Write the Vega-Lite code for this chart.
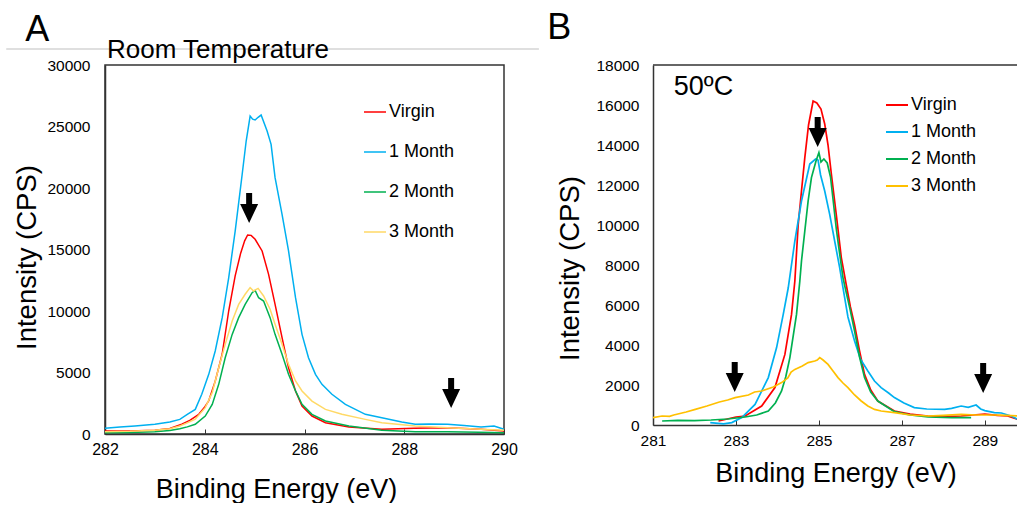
{
  "$schema": "https://vega.github.io/schema/vega-lite/v6.json",
  "background": "white",
  "padding": {"left": 4, "top": 10, "right": 0, "bottom": 0},
  "autosize": {"type": "pad"},
  "config": {
    "font": "Liberation Sans",
    "concat": {"spacing": 149},
    "axis": {"labelColor": "black", "titleColor": "black", "domainColor": "#333333", "domainWidth": 1.5, "tickColor": "#333333", "grid": false, "titleFontWeight": "normal", "labelFont": "Liberation Sans", "titleFont": "Liberation Sans", "labelOverlap": false},
    "axisY": {"labelOverlap": false},
    "legend": {"labelFont": "Liberation Sans"}
  },
  "bounds": "flush",
  "datasets": {
    "rt": [
      {"series":"Virgin","energy":282.0,"intensity":240},{"series":"Virgin","energy":282.5,"intensity":250},{"series":"Virgin","energy":283.0,"intensity":300},{"series":"Virgin","energy":283.3,"intensity":450},{"series":"Virgin","energy":283.54,"intensity":800},{"series":"Virgin","energy":283.7,"intensity":1100},{"series":"Virgin","energy":283.88,"intensity":1600},{"series":"Virgin","energy":284.0,"intensity":2200},{"series":"Virgin","energy":284.08,"intensity":2700},{"series":"Virgin","energy":284.21,"intensity":4300},{"series":"Virgin","energy":284.35,"intensity":6500},{"series":"Virgin","energy":284.48,"intensity":10000},{"series":"Virgin","energy":284.61,"intensity":12850},{"series":"Virgin","energy":284.72,"intensity":14700},{"series":"Virgin","energy":284.8,"intensity":15700},{"series":"Virgin","energy":284.86,"intensity":16180},{"series":"Virgin","energy":284.93,"intensity":16150},{"series":"Virgin","energy":285.01,"intensity":15830},{"series":"Virgin","energy":285.15,"intensity":14880},{"series":"Virgin","energy":285.28,"intensity":12980},{"series":"Virgin","energy":285.41,"intensity":10540},{"series":"Virgin","energy":285.55,"intensity":7830},{"series":"Virgin","energy":285.68,"intensity":5390},{"series":"Virgin","energy":285.82,"intensity":3500},{"series":"Virgin","energy":285.95,"intensity":2280},{"series":"Virgin","energy":286.15,"intensity":1460},{"series":"Virgin","energy":286.42,"intensity":920},{"series":"Virgin","energy":286.89,"intensity":570},{"series":"Virgin","energy":287.55,"intensity":380},{"series":"Virgin","energy":288.2,"intensity":460},{"series":"Virgin","energy":288.87,"intensity":510},{"series":"Virgin","energy":289.54,"intensity":380},{"series":"Virgin","energy":290.0,"intensity":240},
      {"series":"1 Month","energy":282.0,"intensity":460},{"series":"1 Month","energy":282.3,"intensity":570},{"series":"1 Month","energy":282.6,"intensity":650},{"series":"1 Month","energy":283.0,"intensity":790},{"series":"1 Month","energy":283.3,"intensity":975},{"series":"1 Month","energy":283.5,"intensity":1190},{"series":"1 Month","energy":283.65,"intensity":1600},{"series":"1 Month","energy":283.81,"intensity":2000},{"series":"1 Month","energy":283.94,"intensity":3230},{"series":"1 Month","energy":284.08,"intensity":4850},{"series":"1 Month","energy":284.21,"intensity":6750},{"series":"1 Month","energy":284.35,"intensity":9460},{"series":"1 Month","energy":284.48,"intensity":12700},{"series":"1 Month","energy":284.61,"intensity":16500},{"series":"1 Month","energy":284.75,"intensity":21100},{"series":"1 Month","energy":284.83,"intensity":23800},{"series":"1 Month","energy":284.91,"intensity":25850},{"series":"1 Month","energy":284.96,"intensity":25600},{"series":"1 Month","energy":285.01,"intensity":25530},{"series":"1 Month","energy":285.07,"intensity":25750},{"series":"1 Month","energy":285.13,"intensity":25930},{"series":"1 Month","energy":285.25,"intensity":24630},{"series":"1 Month","energy":285.33,"intensity":23550},{"series":"1 Month","energy":285.41,"intensity":20840},{"series":"1 Month","energy":285.55,"intensity":17860},{"series":"1 Month","energy":285.68,"intensity":14880},{"series":"1 Month","energy":285.82,"intensity":11080},{"series":"1 Month","energy":285.95,"intensity":8100},{"series":"1 Month","energy":286.08,"intensity":6200},{"series":"1 Month","energy":286.22,"intensity":4850},{"series":"1 Month","energy":286.35,"intensity":4040},{"series":"1 Month","energy":286.55,"intensity":3230},{"series":"1 Month","energy":286.82,"intensity":2410},{"series":"1 Month","energy":287.22,"intensity":1600},{"series":"1 Month","energy":287.55,"intensity":1330},{"series":"1 Month","energy":287.95,"intensity":975},{"series":"1 Month","energy":288.22,"intensity":790},{"series":"1 Month","energy":288.5,"intensity":820},{"series":"1 Month","energy":288.87,"intensity":790},{"series":"1 Month","energy":289.2,"intensity":700},{"series":"1 Month","energy":289.54,"intensity":570},{"series":"1 Month","energy":289.8,"intensity":650},{"series":"1 Month","energy":290.0,"intensity":380},
      {"series":"2 Month","energy":282.0,"intensity":100},{"series":"2 Month","energy":282.5,"intensity":130},{"series":"2 Month","energy":283.0,"intensity":180},{"series":"2 Month","energy":283.3,"intensity":280},{"series":"2 Month","energy":283.5,"intensity":420},{"series":"2 Month","energy":283.65,"intensity":580},{"series":"2 Month","energy":283.81,"intensity":790},{"series":"2 Month","energy":284.01,"intensity":1460},{"series":"2 Month","energy":284.15,"intensity":2410},{"series":"2 Month","energy":284.28,"intensity":4040},{"series":"2 Month","energy":284.41,"intensity":6200},{"series":"2 Month","energy":284.55,"intensity":8100},{"series":"2 Month","energy":284.68,"intensity":9460},{"series":"2 Month","energy":284.81,"intensity":10540},{"series":"2 Month","energy":284.95,"intensity":11490},{"series":"2 Month","energy":285.01,"intensity":11680},{"series":"2 Month","energy":285.08,"intensity":11080},{"series":"2 Month","energy":285.18,"intensity":10810},{"series":"2 Month","energy":285.31,"intensity":9460},{"series":"2 Month","energy":285.41,"intensity":8100},{"series":"2 Month","energy":285.55,"intensity":6480},{"series":"2 Month","energy":285.68,"intensity":4850},{"series":"2 Month","energy":285.82,"intensity":3500},{"series":"2 Month","energy":285.95,"intensity":2410},{"series":"2 Month","energy":286.15,"intensity":1600},{"series":"2 Month","energy":286.42,"intensity":1060},{"series":"2 Month","energy":286.89,"intensity":650},{"series":"2 Month","energy":287.55,"intensity":300},{"series":"2 Month","energy":288.22,"intensity":190},{"series":"2 Month","energy":288.87,"intensity":190},{"series":"2 Month","energy":289.5,"intensity":150},{"series":"2 Month","energy":290.0,"intensity":110},
      {"series":"3 Month","energy":282.0,"intensity":190},{"series":"3 Month","energy":282.5,"intensity":220},{"series":"3 Month","energy":283.0,"intensity":300},{"series":"3 Month","energy":283.3,"intensity":420},{"series":"3 Month","energy":283.5,"intensity":650},{"series":"3 Month","energy":283.65,"intensity":900},{"series":"3 Month","energy":283.81,"intensity":1200},{"series":"3 Month","energy":284.01,"intensity":2140},{"series":"3 Month","energy":284.15,"intensity":3360},{"series":"3 Month","energy":284.28,"intensity":5390},{"series":"3 Month","energy":284.41,"intensity":7290},{"series":"3 Month","energy":284.55,"intensity":9190},{"series":"3 Month","energy":284.68,"intensity":10540},{"series":"3 Month","energy":284.81,"intensity":11360},{"series":"3 Month","energy":284.91,"intensity":11900},{"series":"3 Month","energy":284.98,"intensity":11630},{"series":"3 Month","energy":285.07,"intensity":11840},{"series":"3 Month","energy":285.18,"intensity":11220},{"series":"3 Month","energy":285.31,"intensity":10140},{"series":"3 Month","energy":285.41,"intensity":8920},{"series":"3 Month","energy":285.55,"intensity":7290},{"series":"3 Month","energy":285.68,"intensity":5660},{"series":"3 Month","energy":285.82,"intensity":4310},{"series":"3 Month","energy":285.95,"intensity":3500},{"series":"3 Month","energy":286.15,"intensity":2680},{"series":"3 Month","energy":286.42,"intensity":2000},{"series":"3 Month","energy":286.75,"intensity":1600},{"series":"3 Month","energy":287.22,"intensity":1190},{"series":"3 Month","energy":287.55,"intensity":920},{"series":"3 Month","energy":288.22,"intensity":650},{"series":"3 Month","energy":288.87,"intensity":510},{"series":"3 Month","energy":289.54,"intensity":380},{"series":"3 Month","energy":290.0,"intensity":300}
    ],
    "c50": [
      {"series":"Virgin","energy":282.58,"intensity":200},{"series":"Virgin","energy":283.0,"intensity":400},{"series":"Virgin","energy":283.22,"intensity":450},{"series":"Virgin","energy":283.62,"intensity":950},{"series":"Virgin","energy":283.94,"intensity":1870},{"series":"Virgin","energy":284.18,"intensity":3530},{"series":"Virgin","energy":284.34,"intensity":5530},{"series":"Virgin","energy":284.42,"intensity":7200},{"series":"Virgin","energy":284.5,"intensity":10000},{"series":"Virgin","energy":284.58,"intensity":11700},{"series":"Virgin","energy":284.66,"intensity":13370},{"series":"Virgin","energy":284.75,"intensity":15000},{"series":"Virgin","energy":284.86,"intensity":16200},{"series":"Virgin","energy":284.95,"intensity":16100},{"series":"Virgin","energy":285.05,"intensity":15800},{"series":"Virgin","energy":285.14,"intensity":15050},{"series":"Virgin","energy":285.22,"intensity":14000},{"series":"Virgin","energy":285.3,"intensity":12550},{"series":"Virgin","energy":285.42,"intensity":10500},{"series":"Virgin","energy":285.54,"intensity":8370},{"series":"Virgin","energy":285.66,"intensity":7000},{"series":"Virgin","energy":285.76,"intensity":5900},{"series":"Virgin","energy":285.86,"intensity":5000},{"series":"Virgin","energy":285.98,"intensity":3700},{"series":"Virgin","energy":286.1,"intensity":2530},{"series":"Virgin","energy":286.25,"intensity":1750},{"series":"Virgin","energy":286.42,"intensity":1200},{"series":"Virgin","energy":286.82,"intensity":700},{"series":"Virgin","energy":287.2,"intensity":550},{"series":"Virgin","energy":287.63,"intensity":450},{"series":"Virgin","energy":288.0,"intensity":420},{"series":"Virgin","energy":288.43,"intensity":450},{"series":"Virgin","energy":289.0,"intensity":550},{"series":"Virgin","energy":289.3,"intensity":480},{"series":"Virgin","energy":289.55,"intensity":450},{"series":"Virgin","energy":289.8,"intensity":280},
      {"series":"1 Month","energy":282.38,"intensity":120},{"series":"1 Month","energy":282.7,"intensity":60},{"series":"1 Month","energy":282.9,"intensity":120},{"series":"1 Month","energy":283.14,"intensity":370},{"series":"1 Month","energy":283.46,"intensity":1030},{"series":"1 Month","energy":283.78,"intensity":2370},{"series":"1 Month","energy":283.98,"intensity":3870},{"series":"1 Month","energy":284.14,"intensity":5530},{"series":"1 Month","energy":284.26,"intensity":6850},{"series":"1 Month","energy":284.42,"intensity":9200},{"series":"1 Month","energy":284.58,"intensity":11200},{"series":"1 Month","energy":284.78,"intensity":13050},{"series":"1 Month","energy":284.92,"intensity":13300},{"series":"1 Month","energy":284.98,"intensity":13250},{"series":"1 Month","energy":285.04,"intensity":12500},{"series":"1 Month","energy":285.14,"intensity":11700},{"series":"1 Month","energy":285.26,"intensity":10530},{"series":"1 Month","energy":285.38,"intensity":9200},{"series":"1 Month","energy":285.5,"intensity":7870},{"series":"1 Month","energy":285.58,"intensity":6870},{"series":"1 Month","energy":285.7,"intensity":5400},{"series":"1 Month","energy":285.86,"intensity":4200},{"series":"1 Month","energy":286.0,"intensity":3300},{"series":"1 Month","energy":286.18,"intensity":2700},{"series":"1 Month","energy":286.34,"intensity":2200},{"series":"1 Month","energy":286.5,"intensity":1870},{"series":"1 Month","energy":286.68,"intensity":1600},{"series":"1 Month","energy":286.82,"intensity":1370},{"series":"1 Month","energy":287.05,"intensity":1100},{"series":"1 Month","energy":287.3,"intensity":870},{"series":"1 Month","energy":287.6,"intensity":800},{"series":"1 Month","energy":288.03,"intensity":780},{"series":"1 Month","energy":288.2,"intensity":830},{"series":"1 Month","energy":288.43,"intensity":950},{"series":"1 Month","energy":288.6,"intensity":880},{"series":"1 Month","energy":288.79,"intensity":1000},{"series":"1 Month","energy":288.9,"intensity":800},{"series":"1 Month","energy":289.0,"intensity":720},{"series":"1 Month","energy":289.23,"intensity":620},{"series":"1 Month","energy":289.4,"intensity":600},{"series":"1 Month","energy":289.63,"intensity":450},{"series":"1 Month","energy":289.8,"intensity":280},
      {"series":"2 Month","energy":281.22,"intensity":200},{"series":"2 Month","energy":281.6,"intensity":230},{"series":"2 Month","energy":282.0,"intensity":220},{"series":"2 Month","energy":282.4,"intensity":250},{"series":"2 Month","energy":282.8,"intensity":300},{"series":"2 Month","energy":283.22,"intensity":400},{"series":"2 Month","energy":283.5,"intensity":500},{"series":"2 Month","energy":283.78,"intensity":700},{"series":"2 Month","energy":283.95,"intensity":1100},{"series":"2 Month","energy":284.1,"intensity":1700},{"series":"2 Month","energy":284.2,"intensity":2400},{"series":"2 Month","energy":284.3,"intensity":3370},{"series":"2 Month","energy":284.46,"intensity":5530},{"series":"2 Month","energy":284.54,"intensity":7200},{"series":"2 Month","energy":284.58,"intensity":8200},{"series":"2 Month","energy":284.66,"intensity":9700},{"series":"2 Month","energy":284.74,"intensity":11200},{"series":"2 Month","energy":284.82,"intensity":12370},{"series":"2 Month","energy":284.93,"intensity":13200},{"series":"2 Month","energy":285.0,"intensity":13620},{"series":"2 Month","energy":285.05,"intensity":13150},{"series":"2 Month","energy":285.12,"intensity":13300},{"series":"2 Month","energy":285.2,"intensity":13100},{"series":"2 Month","energy":285.28,"intensity":12400},{"series":"2 Month","energy":285.34,"intensity":11300},{"series":"2 Month","energy":285.42,"intensity":9800},{"series":"2 Month","energy":285.48,"intensity":8870},{"series":"2 Month","energy":285.58,"intensity":7370},{"series":"2 Month","energy":285.64,"intensity":6800},{"series":"2 Month","energy":285.75,"intensity":5800},{"series":"2 Month","energy":285.86,"intensity":4700},{"series":"2 Month","energy":285.98,"intensity":3400},{"series":"2 Month","energy":286.1,"intensity":2370},{"series":"2 Month","energy":286.25,"intensity":1650},{"series":"2 Month","energy":286.42,"intensity":1200},{"series":"2 Month","energy":286.82,"intensity":670},{"series":"2 Month","energy":287.2,"intensity":500},{"series":"2 Month","energy":287.63,"intensity":400},{"series":"2 Month","energy":288.2,"intensity":370},{"series":"2 Month","energy":288.67,"intensity":370},
      {"series":"3 Month","energy":281.0,"intensity":370},{"series":"3 Month","energy":281.22,"intensity":450},{"series":"3 Month","energy":281.4,"intensity":430},{"series":"3 Month","energy":281.5,"intensity":500},{"series":"3 Month","energy":281.8,"intensity":650},{"series":"3 Month","energy":282.02,"intensity":780},{"series":"3 Month","energy":282.3,"intensity":950},{"series":"3 Month","energy":282.6,"intensity":1150},{"series":"3 Month","energy":282.8,"intensity":1250},{"series":"3 Month","energy":282.98,"intensity":1370},{"series":"3 Month","energy":283.3,"intensity":1500},{"series":"3 Month","energy":283.45,"intensity":1650},{"series":"3 Month","energy":283.62,"intensity":1700},{"series":"3 Month","energy":283.9,"intensity":1900},{"series":"3 Month","energy":284.1,"intensity":2120},{"series":"3 Month","energy":284.25,"intensity":2350},{"series":"3 Month","energy":284.33,"intensity":2650},{"series":"3 Month","energy":284.42,"intensity":2780},{"series":"3 Month","energy":284.6,"intensity":2950},{"series":"3 Month","energy":284.74,"intensity":3120},{"series":"3 Month","energy":284.9,"intensity":3200},{"series":"3 Month","energy":284.96,"intensity":3250},{"series":"3 Month","energy":285.02,"intensity":3370},{"series":"3 Month","energy":285.1,"intensity":3250},{"series":"3 Month","energy":285.22,"intensity":3030},{"series":"3 Month","energy":285.34,"intensity":2700},{"series":"3 Month","energy":285.46,"intensity":2370},{"series":"3 Month","energy":285.58,"intensity":2100},{"series":"3 Month","energy":285.7,"intensity":1870},{"series":"3 Month","energy":285.86,"intensity":1500},{"series":"3 Month","energy":286.02,"intensity":1200},{"series":"3 Month","energy":286.18,"intensity":950},{"series":"3 Month","energy":286.34,"intensity":780},{"series":"3 Month","energy":286.5,"intensity":700},{"series":"3 Month","energy":286.82,"intensity":620},{"series":"3 Month","energy":287.2,"intensity":500},{"series":"3 Month","energy":287.63,"intensity":450},{"series":"3 Month","energy":288.0,"intensity":480},{"series":"3 Month","energy":288.43,"intensity":530},{"series":"3 Month","energy":288.8,"intensity":500},{"series":"3 Month","energy":289.23,"intensity":500},{"series":"3 Month","energy":289.5,"intensity":480},{"series":"3 Month","energy":289.8,"intensity":450}
    ],
    "arrowsA": [{"energy": 284.89, "intensity": 18370}, {"energy": 288.94, "intensity": 3330}],
    "arrowsB": [{"energy": 284.97, "intensity": 14650}, {"energy": 282.97, "intensity": 2400}, {"energy": 288.96, "intensity": 2350}],
    "one": [{}]
  },
  "resolve": {"scale": {"color": "independent", "x": "independent", "y": "independent"}, "legend": {"color": "independent"}},
  "hconcat": [
    {
      "width": 399,
      "height": 369,
      "view": {"stroke": "#333333", "strokeWidth": 1.5},
      "layer": [
        {
          "data": {"name": "rt"},
          "mark": {"type": "line", "strokeWidth": 1.5, "interpolate": "linear"},
          "encoding": {
            "x": {"field": "energy", "type": "quantitative", "scale": {"domain": [282, 290], "nice": false, "zero": false},
                  "axis": {"values": [282, 284, 286, 288, 290], "title": "Binding Energy (eV)", "labelFontSize": 16, "tickSize": -5, "labelPadding": 12, "labelOverlap": false, "titleFontSize": 27, "titleX": 171, "titleY": 63, "titleBaseline": "alphabetic", "titleAlign": "center", "labelFlush": false}},
            "y": {"field": "intensity", "type": "quantitative", "scale": {"domain": [0, 30000], "nice": false},
                  "axis": {"values": [0, 5000, 10000, 15000, 20000, 25000, 30000], "format": "d", "ticks": false, "labelOverlap": false, "labelFlush": false, "title": "Intensity (CPS)", "labelFontSize": 15.5, "labelPadding": 15, "titleFontSize": 27.5, "titleX": -70, "titleY": 192, "titleAngle": 270, "titleBaseline": "alphabetic", "titleAlign": "center"}},
            "color": {"field": "series", "type": "nominal",
                      "scale": {"domain": ["Virgin", "1 Month", "2 Month", "3 Month"], "range": ["#FF0000", "#00B0F0", "#00B050", "#FFD966"]},
                      "legend": {"title": null, "orient": "none", "legendX": 258, "legendY": 35, "symbolType": "stroke", "symbolSize": 484, "symbolStrokeWidth": 1.5, "labelFontSize": 18, "labelColor": "black", "labelOffset": 2, "rowPadding": 19, "padding": 0}}
          }
        },
        {
          "data": {"name": "arrowsA"},
          "mark": {"type": "point", "shape": "M-0.2,-1L0.2,-1L0.2,-0.27L0.6,-0.27L0,1L-0.6,-0.27L-0.2,-0.27Z", "filled": true, "color": "black", "opacity": 1, "size": 900},
          "encoding": {
            "x": {"field": "energy", "type": "quantitative", "scale": {"domain": [282, 290], "nice": false, "zero": false}},
            "y": {"field": "intensity", "type": "quantitative", "scale": {"domain": [0, 30000], "nice": false}}
          }
        },
        {
          "data": {"name": "one"},
          "mark": {"type": "rule", "color": "#BFBFBF", "strokeWidth": 1},
          "encoding": {
            "x": {"datum": 280.02, "type": "quantitative", "scale": {"domain": [282, 290], "nice": false, "zero": false}},
            "x2": {"datum": 290.7},
            "y": {"datum": 31300, "type": "quantitative", "scale": {"domain": [0, 30000], "nice": false}}
          }
        },
        {
          "data": {"name": "one"},
          "mark": {"type": "text", "text": "Room Temperature", "fontSize": 26, "align": "left", "baseline": "alphabetic", "color": "black", "font": "Liberation Sans"},
          "encoding": {
            "x": {"datum": 282.04, "type": "quantitative", "scale": {"domain": [282, 290], "nice": false, "zero": false}},
            "y": {"datum": 30570, "type": "quantitative", "scale": {"domain": [0, 30000], "nice": false}}
          }
        },
        {
          "data": {"name": "one"},
          "mark": {"type": "text", "text": "A", "fontSize": 36, "align": "left", "baseline": "alphabetic", "color": "black", "font": "Liberation Sans"},
          "encoding": {
            "x": {"datum": 280.4, "type": "quantitative", "scale": {"domain": [282, 290], "nice": false, "zero": false}},
            "y": {"datum": 31950, "type": "quantitative", "scale": {"domain": [0, 30000], "nice": false}}
          }
        }
      ]
    },
    {
      "width": 365,
      "height": 360,
      "view": {"stroke": null},
      "layer": [
        {
          "data": {"name": "c50"},
          "mark": {"type": "line", "strokeWidth": 1.7, "interpolate": "linear"},
          "encoding": {
            "x": {"field": "energy", "type": "quantitative", "scale": {"domain": [281, 289.8], "nice": false, "zero": false},
                  "axis": {"values": [281, 283, 285, 287, 289], "title": "Binding Energy (eV)", "labelFontSize": 15.5, "tickSize": -5, "labelPadding": 13, "labelOverlap": false, "titleFontSize": 27, "titleY": 56, "titleBaseline": "alphabetic", "labelFlush": false}},
            "y": {"field": "intensity", "type": "quantitative", "scale": {"domain": [0, 18000], "nice": false},
                  "axis": {"values": [0, 2000, 4000, 6000, 8000, 10000, 12000, 14000, 16000, 18000], "format": "d", "ticks": false, "labelOverlap": false, "labelFlush": false, "title": "Intensity (CPS)", "labelFontSize": 15.5, "labelPadding": 14, "titleFontSize": 27.5, "titleX": -75, "titleY": 203, "titleAngle": 270, "titleBaseline": "alphabetic", "titleAlign": "center"}},
            "color": {"field": "series", "type": "nominal",
                      "scale": {"domain": ["Virgin", "1 Month", "2 Month", "3 Month"], "range": ["#FF0000", "#00B0F0", "#00B050", "#FFC000"]},
                      "legend": {"title": null, "orient": "none", "legendX": 232, "legendY": 28, "symbolType": "stroke", "symbolSize": 484, "symbolStrokeWidth": 2, "labelFontSize": 18, "labelColor": "black", "labelOffset": 2, "rowPadding": 6, "padding": 0}}
          }
        },
        {
          "data": {"name": "arrowsB"},
          "mark": {"type": "point", "shape": "M-0.2,-1L0.2,-1L0.2,-0.27L0.6,-0.27L0,1L-0.6,-0.27L-0.2,-0.27Z", "filled": true, "color": "black", "opacity": 1, "size": 900},
          "encoding": {
            "x": {"field": "energy", "type": "quantitative", "scale": {"domain": [281, 289.8], "nice": false, "zero": false}},
            "y": {"field": "intensity", "type": "quantitative", "scale": {"domain": [0, 18000], "nice": false},
                  "axis": {"values": [0, 2000, 4000, 6000, 8000, 10000, 12000, 14000, 16000, 18000], "format": "d", "ticks": false, "labelOverlap": false, "labelFlush": false, "title": "Intensity (CPS)", "labelFontSize": 15.5, "labelPadding": 14, "titleFontSize": 27.5, "titleX": -75, "titleY": 203, "titleAngle": 270, "titleBaseline": "alphabetic", "titleAlign": "center"}}
          }
        },
        {
          "data": {"name": "one"},
          "mark": {"type": "rule", "color": "#333333", "strokeWidth": 1.5},
          "encoding": {
            "y": {"datum": 18000, "type": "quantitative", "scale": {"domain": [0, 18000], "nice": false},
                  "axis": {"values": [0, 2000, 4000, 6000, 8000, 10000, 12000, 14000, 16000, 18000], "format": "d", "ticks": false, "labelOverlap": false, "labelFlush": false, "title": "Intensity (CPS)", "labelFontSize": 15.5, "labelPadding": 14, "titleFontSize": 27.5, "titleX": -75, "titleY": 203, "titleAngle": 270, "titleBaseline": "alphabetic", "titleAlign": "center"}}
          }
        },
        {
          "data": {"name": "one"},
          "mark": {"type": "text", "text": "B", "fontSize": 36, "align": "left", "baseline": "alphabetic", "color": "black", "font": "Liberation Sans"},
          "encoding": {
            "x": {"datum": 278.45, "type": "quantitative", "scale": {"domain": [281, 289.8], "nice": false, "zero": false}},
            "y": {"datum": 19300, "type": "quantitative", "scale": {"domain": [0, 18000], "nice": false},
                  "axis": {"values": [0, 2000, 4000, 6000, 8000, 10000, 12000, 14000, 16000, 18000], "format": "d", "ticks": false, "labelOverlap": false, "labelFlush": false, "title": "Intensity (CPS)", "labelFontSize": 15.5, "labelPadding": 14, "titleFontSize": 27.5, "titleX": -75, "titleY": 203, "titleAngle": 270, "titleBaseline": "alphabetic", "titleAlign": "center"}}
          }
        },
        {
          "data": {"name": "one"},
          "mark": {"type": "text", "text": "50ºC", "fontSize": 27, "align": "left", "baseline": "alphabetic", "color": "black", "font": "Liberation Sans"},
          "encoding": {
            "x": {"datum": 281.5, "type": "quantitative", "scale": {"domain": [281, 289.8], "nice": false, "zero": false}},
            "y": {"datum": 16500, "type": "quantitative", "scale": {"domain": [0, 18000], "nice": false},
                  "axis": {"values": [0, 2000, 4000, 6000, 8000, 10000, 12000, 14000, 16000, 18000], "format": "d", "ticks": false, "labelOverlap": false, "labelFlush": false, "title": "Intensity (CPS)", "labelFontSize": 15.5, "labelPadding": 14, "titleFontSize": 27.5, "titleX": -75, "titleY": 203, "titleAngle": 270, "titleBaseline": "alphabetic", "titleAlign": "center"}}
          }
        }
      ]
    }
  ]
}
